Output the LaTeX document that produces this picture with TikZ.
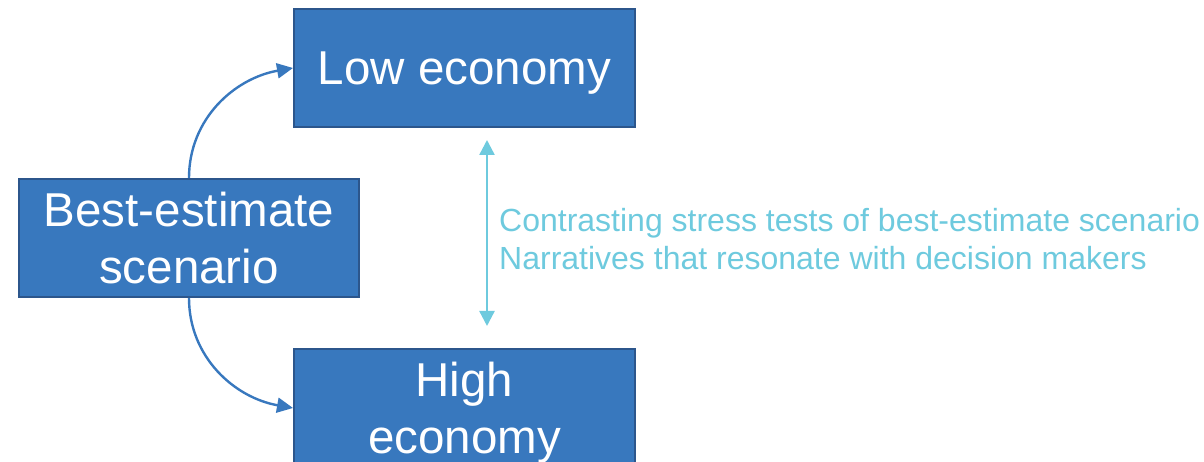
\documentclass[tikz,border=0pt]{standalone}
\usepackage{fontspec}
\setmainfont{Liberation Sans}
\usetikzlibrary{positioning,arrows.meta}
\definecolor{boxblue}{RGB}{56,120,190}
\definecolor{boxline}{RGB}{44,86,140}
\definecolor{stresscyan}{RGB}{110,202,222}

\begin{document}
\begin{tikzpicture}[x=1pt,y=1pt,
        scen/.style={draw=boxline, line width=2pt, fill=boxblue, text=white, align=center,
            font=\fontsize{47.5}{57}\selectfont, inner sep=0pt, text depth=0pt, minimum height=118pt},
        branch/.style={boxblue, line width=2.4pt, -{Triangle[length=16pt,width=15pt]}},
        span/.style={stresscyan, line width=2.4pt, {Triangle[length=15pt,width=15pt]}-{Triangle[length=15pt,width=15pt]}},
        note/.style={text=stresscyan, align=left, inner sep=0pt, font=\fontsize{32}{38}\selectfont}]
        \useasboundingbox (0,0) rectangle (1204,462);
        % scenario boxes
        \node[scen, minimum width=341pt] (low) at (464.5,394) {Low economy};
        \node[scen, minimum width=340pt] (best) at (189,224) {Best-estimate\\scenario};
        \node[scen, minimum width=341pt] (high) at (464.5,54) {High\\economy};
        % branches
        \draw[branch] (best.north) to[out=90, in=190] (low.west);
        \draw[branch] (best.south) to[out=-90, in=170] (high.west);
        % contrast
        \coordinate (spanTop) at ([xshift=22.5pt,yshift=-12pt]low.south);
        \coordinate (spanBot) at ([xshift=22.5pt,yshift=22pt]high.north);
        \draw[span] (spanTop) -- (spanBot);
        \node[note, anchor=west] (stress) at (499,223) {Contrasting stress tests of best-estimate scenario\\Narratives that resonate with decision makers};
    \end{tikzpicture}
\end{document}
